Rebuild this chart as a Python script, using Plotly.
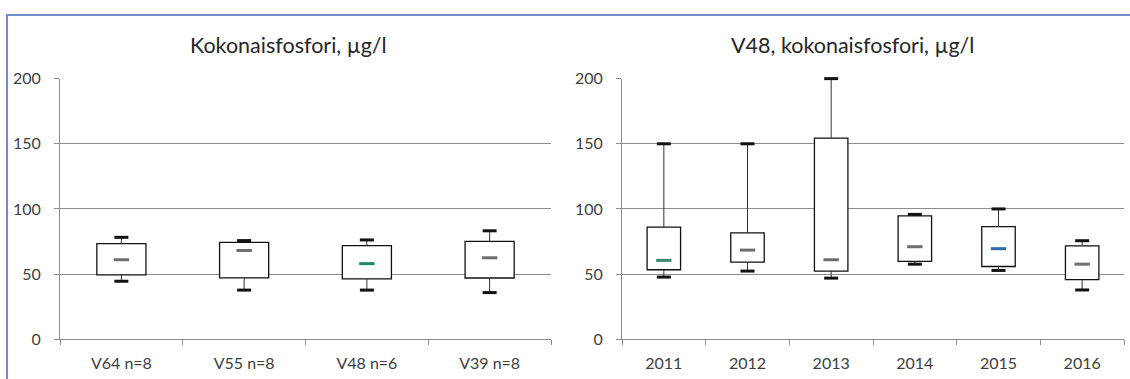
import plotly.graph_objects as go

# ---- data ----
left_cats = ["V64 n=8", "V55 n=8", "V48 n=6", "V39 n=8"]
left_min = [44.5, 37.7, 37.7, 35.8]
left_q1 = [49.4, 47.1, 46.3, 47.0]
left_med = [61.0, 68.1, 58.0, 62.5]
left_q3 = [73.4, 74.4, 71.9, 75.1]
left_max = [78.2, 75.7, 76.2, 83.2]

right_cats = ["2011", "2012", "2013", "2014", "2015", "2016"]
right_min = [47.7, 52.3, 46.9, 57.6, 52.8, 37.8]
right_q1 = [53.3, 59.2, 52.3, 59.8, 55.8, 45.7]
right_med = [60.5, 68.4, 61.0, 71.0, 69.5, 57.6]
right_q3 = [86.0, 81.6, 154.3, 94.6, 86.4, 71.6]
right_max = [150, 150, 200, 95.8, 100, 75.6]

left_title = "Kokonaisfosfori, µg/l"
right_title = "V48, kokonaisfosfori, µg/l"

# styles
left_med_colors = ["#6e6e6e", "#6e6e6e", "#1d8a6a", "#6e6e6e"]
right_med_colors = ["#3b8c6e", "#6e6e6e", "#6e6e6e", "#6e6e6e", "#2d6ca8", "#6e6e6e"]
FONT = "Lato"
W, H = 1130, 379
# vertical placement calibration of the photographed page
Y_OFF, Y_SCALE = 8.0, 0.955

fig = go.Figure()


def add_boxes(cats, mn, q1, med, q3, mx, med_colors, xa, ya):
    fig.add_trace(go.Bar(
        x=cats, y=[b - a for a, b in zip(q1, q3)], base=q1,
        marker=dict(color="white", line=dict(color="#111111", width=1.3)),
        xaxis=xa, yaxis=ya, showlegend=False, hoverinfo="skip"))
    wx, wy = [], []
    for c, a, b, lo, hi in zip(cats, q1, q3, mn, mx):
        wx += [c, c, None, c, c, None]
        wy += [b, hi, None, lo, a, None]
    fig.add_trace(go.Scatter(
        x=wx, y=wy, mode="lines", line=dict(color="#333333", width=1),
        xaxis=xa, yaxis=ya, showlegend=False, hoverinfo="skip", cliponaxis=False))
    fig.add_trace(go.Scatter(
        x=list(cats) + list(cats), y=list(mx) + list(mn), mode="markers",
        marker=dict(symbol="line-ew", size=10, line=dict(color="#111111", width=3)),
        xaxis=xa, yaxis=ya, showlegend=False, hoverinfo="skip", cliponaxis=False))
    fig.add_trace(go.Scatter(
        x=cats, y=med, mode="markers",
        marker=dict(symbol="line-ew", size=11, line=dict(color=med_colors, width=3)),
        xaxis=xa, yaxis=ya, showlegend=False, hoverinfo="skip", cliponaxis=False))


add_boxes(left_cats, left_min, left_q1, left_med, left_q3, left_max, left_med_colors, "x", "y")
add_boxes(right_cats, right_min, right_q1, right_med, right_q3, right_max, right_med_colors, "x2", "y2")

axis_grey = "#8c8c8c"
xcommon = dict(type="category", showline=True, linecolor=axis_grey, linewidth=1,
               ticks="outside", tickson="boundaries", ticklen=5, tickcolor=axis_grey,
               showgrid=False, ticklabelstandoff=10,
               tickfont=dict(family=FONT, size=16, color="#404040"), fixedrange=True)
ycommon = dict(range=[0, 200], dtick=50, showline=True, linecolor=axis_grey, linewidth=1,
               ticks="outside", ticklen=5, tickcolor=axis_grey, showgrid=True,
               gridcolor=axis_grey, gridwidth=1, zeroline=False, ticklabelstandoff=10,
               tickfont=dict(family=FONT, size=16, color="#404040"), fixedrange=True)


def px_x(x):
    return min(max(x / W, 0.0), 1.0)


def px_y(y):
    p = (y - Y_OFF) / Y_SCALE
    return min(max(1 - p / H, 0.0), 1.0)


ydom = [px_y(339), px_y(77)]
fig.update_layout(
    width=W, height=H,
    margin=dict(l=0, r=0, t=0, b=0),
    paper_bgcolor="white", plot_bgcolor="white",
    bargap=0.6,
    xaxis=dict(domain=[px_x(60), px_x(551)], anchor="y", **xcommon),
    yaxis=dict(domain=ydom, anchor="x", **ycommon),
    xaxis2=dict(domain=[px_x(622), px_x(1124)], anchor="y2", **xcommon),
    yaxis2=dict(domain=ydom, anchor="x2", **ycommon),
    annotations=[
        dict(text=left_title, x=px_x(288), y=px_y(43), xref="paper", yref="paper",
             xanchor="center", yanchor="middle", showarrow=False,
             font=dict(family=FONT, size=21.5, color="#262626")),
        dict(text=right_title, x=px_x(852), y=px_y(43), xref="paper", yref="paper",
             xanchor="center", yanchor="middle", showarrow=False,
             font=dict(family=FONT, size=21.5, color="#262626")),
    ],
    shapes=[
        dict(type="rect", xref="paper", yref="paper",
             x0=px_x(7), x1=1.05, y0=-0.05, y1=px_y(13),
             line=dict(color="#6f8fc6", width=2), fillcolor="rgba(0,0,0,0)", layer="above"),
    ],
)

fig.write_html("out.html", config={"displayModeBar": False},
               post_script="document.body.style.margin='0';document.body.style.overflow='hidden';")
